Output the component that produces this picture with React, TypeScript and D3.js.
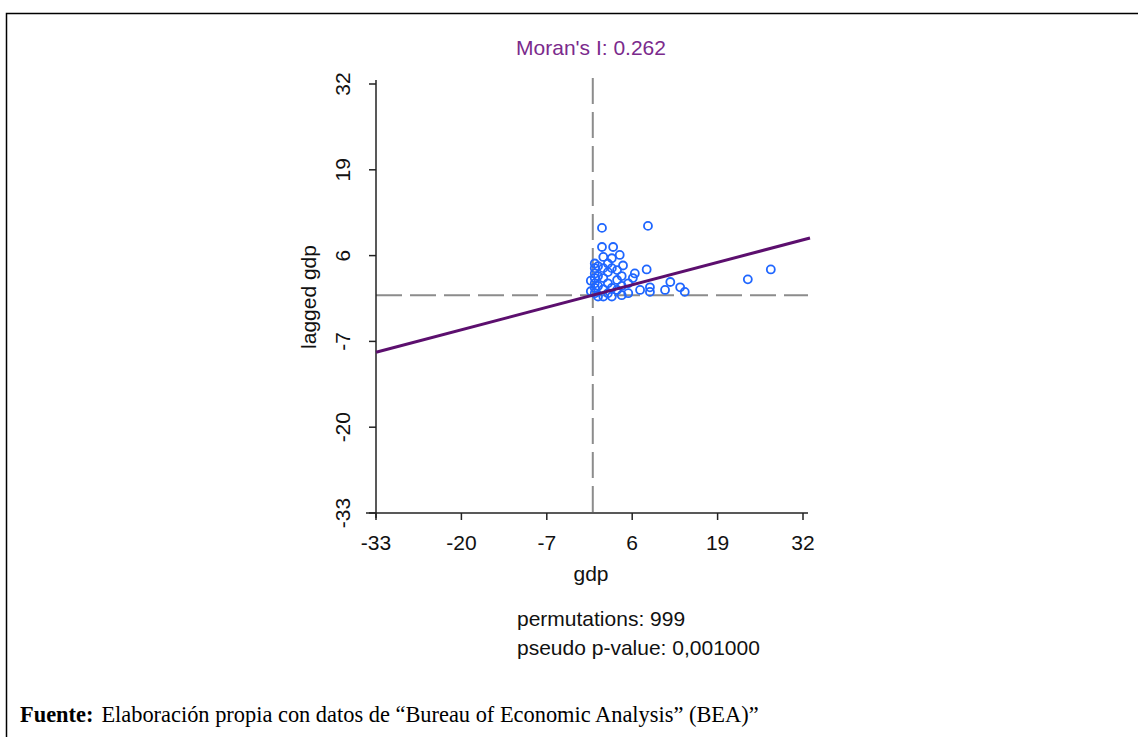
import React from 'react';
import * as d3 from 'd3';

// ticks shared by both axes
const tickValues = [-33, -20, -7, 6, 19, 32];

// gdp (standardised) and its spatial lag
const gdp = [
  1.4, 8.4, 23.6, 27.1, 1.4, 3.1, 4.1, 1.6, 2.9, 4.6,
  8.2, 6.4, 6.1, 3.7, 11.8, 13.3, 14.0, 8.7, 8.7, 11.0,
  0.3, 0.3, 0.3, 0.3, 0.3, 0.3, 0.3,
  0.8, 0.8, 0.8, 0.8,
  1.6, 1.6, 1.6, 1.6,
  2.3, 2.3, 2.3, 2.3,
  2.9, 2.9, 2.9,
  3.7, 3.7,
  4.4, 4.4, 4.4,
  5.4, 5.4, 7.2, -0.3, -0.3,
];
const laggedGdp = [
  10.2, 10.5, 2.4, 3.9, 7.3, 7.3, 6.1, 5.8, 5.6, 4.5,
  3.9, 3.3, 2.6, 2.3, 2.0, 1.2, 0.5, 1.2, 0.5, 0.8,
  4.8, 4.1, 3.3, 2.6, 1.8, 1.1, 0.3,
  4.4, 2.9, 1.4, -0.2,
  4.1, 2.6, 0.9, -0.2,
  4.8, 3.5, 1.8, 0.3,
  4.1, 1.1, -0.2,
  3.8, 0.8,
  2.9, 1.4, 0.0,
  1.8, 0.3, 0.8, 2.2, 0.6,
];

const moransI = 0.262;
const permutations = 999;
const pValue = '0,001000';

export default function App() {
  const x = d3.scaleLinear().domain([-33, 32]).range([376, 803]);
  const y = d3.scaleLinear().domain([-33, 32]).range([513, 84]);
  const xMax = x.invert(810);

  const fit = d3.line<number>()
    .x((d) => x(d))
    .y((d) => y(d * moransI));

  const font = 'Arial, "Liberation Sans", sans-serif';
  const fs = 21;

  return (
    <svg width={1138} height={737} style={{ position: 'absolute', left: 0, top: 0 }}>
      <rect width={1138} height={737} fill="#fff" />
      {/* frame */}
      <path d="M6.5,737 V13.5 H1138" fill="none" stroke="#000" strokeWidth={1.5} />

      <text x={591} y={55} textAnchor="middle" fontFamily={font} fontSize={fs} fill="#7b2a8c">
        Moran's I: {moransI}
      </text>

      {/* quadrant lines */}
      <line x1={x(0)} x2={x(0)} y1={78} y2={y(-33)} stroke="#8c8c8c" strokeWidth={2} strokeDasharray="26,8" />
      <line x1={376} x2={808} y1={y(0)} y2={y(0)} stroke="#8c8c8c" strokeWidth={2} strokeDasharray="26,8" />

      {/* axes */}
      <line x1={366} x2={808} y1={513} y2={513} stroke="#222" strokeWidth={1.5} />
      <line x1={376} x2={376} y1={80} y2={518} stroke="#222" strokeWidth={1.5} />
      {tickValues.map((t) => (
        <g key={'x' + t}>
          <line x1={x(t)} x2={x(t)} y1={513} y2={520} stroke="#222" strokeWidth={1.5} />
          <text x={x(t)} y={550} textAnchor="middle" fontFamily={font} fontSize={fs} fill="#111">{t}</text>
        </g>
      ))}
      {tickValues.map((t) => (
        <g key={'y' + t}>
          <line x1={369} x2={376} y1={y(t)} y2={y(t)} stroke="#222" strokeWidth={1.5} />
          <text transform={`translate(350,${y(t)}) rotate(-90)`} textAnchor="middle"
            fontFamily={font} fontSize={fs} fill="#111">{t}</text>
        </g>
      ))}

      <text x={591} y={581} textAnchor="middle" fontFamily={font} fontSize={fs} fill="#111">gdp</text>
      <text transform={`translate(316,297) rotate(-90)`} textAnchor="middle" fontFamily={font} fontSize={fs} fill="#111">
        lagged gdp
      </text>

      {/* points */}
      {gdp.map((g, i) => (
        <circle key={i} cx={x(g)} cy={y(laggedGdp[i])} r={4} fill="none" stroke="#1f66ff" strokeWidth={1.8} />
      ))}

      {/* regression line */}
      <path d={fit([-33, xMax]) || ''} fill="none" stroke="#5c0f6e" strokeWidth={3} />

      <text x={517} y={626} fontFamily={font} fontSize={fs} fill="#111">permutations: {permutations}</text>
      <text x={517} y={655} fontFamily={font} fontSize={fs} fill="#111">pseudo p-value: {pValue}</text>

      <text x={20} y={722} fontFamily='"Liberation Serif", "Times New Roman", serif' fontSize={22.4} fill="#000">
        <tspan fontWeight="bold">Fuente:</tspan>
        <tspan dx={8}>Elaboración propia con datos de “Bureau of Economic Analysis” (BEA)”</tspan>
      </text>
    </svg>
  );
}
